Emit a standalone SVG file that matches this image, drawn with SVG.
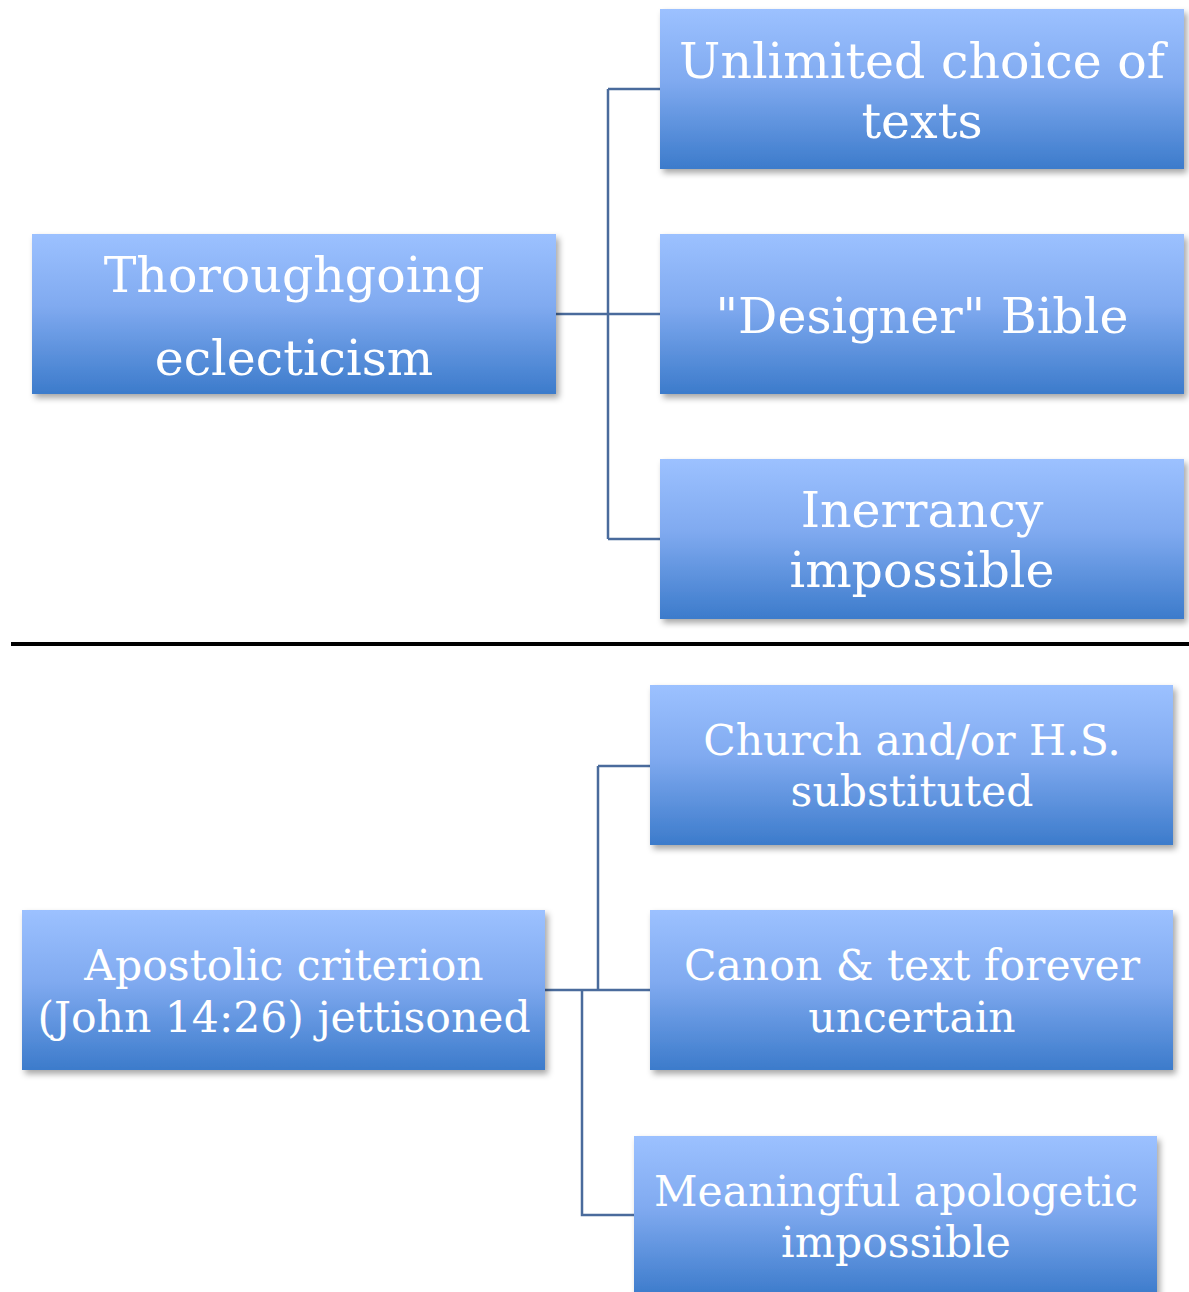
<svg xmlns="http://www.w3.org/2000/svg" width="1189" height="1292" viewBox="0 0 1189 1292">
<defs>
<linearGradient id="g" x1="0" y1="0" x2="0" y2="1">
<stop offset="0" stop-color="#9cc1ff"/>
<stop offset="0.45" stop-color="#80aaf0"/>
<stop offset="1" stop-color="#3c7bcb"/>
</linearGradient>
<filter id="sh" x="-5%" y="-5%" width="115%" height="120%">
<feDropShadow dx="3" dy="4" stdDeviation="3" flood-color="#000" flood-opacity="0.35"/>
</filter>
</defs>
<style>
.box{fill:url(#g);filter:url(#sh)}
.t{font-family:"DejaVu Serif","Liberation Serif",serif;fill:#fff;text-anchor:middle}
.big{font-size:49px}
.sm{font-size:42.5px}
.c{fill:none;stroke:#4a6b9c;stroke-width:2.5}
</style>
<rect width="1189" height="1292" fill="#fff"/>
<g id="connectors">
<path class="c" d="M556 314H660M608 89V539M608 89H660M608 539H660"/>
<path class="c" d="M545 990H650M598 766V990M598 766H650M582 990V1215H634"/>
</g>
<line x1="11" y1="644" x2="1189" y2="644" stroke="#000" stroke-width="4"/>
<g id="n-thoroughgoing"><rect class="box" x="32" y="234" width="524" height="160"/>
<text class="t big" x="294" y="292">Thoroughgoing</text><text class="t big" x="294" y="375">eclecticism</text></g>
<g id="n-unlimited"><rect class="box" x="660" y="9" width="524" height="160"/>
<text class="t big" x="922" y="78">Unlimited choice of</text><text class="t big" x="922" y="138">texts</text></g>
<g id="n-designer"><rect class="box" x="660" y="234" width="524" height="160"/>
<text class="t big" x="922" y="333">"Designer" Bible</text></g>
<g id="n-inerrancy"><rect class="box" x="660" y="459" width="524" height="160"/>
<text class="t big" x="922" y="527">Inerrancy</text><text class="t big" x="922" y="587">impossible</text></g>
<g id="n-apostolic"><rect class="box" x="22" y="910" width="523" height="160"/>
<text class="t sm" x="284" y="980">Apostolic criterion</text><text class="t sm" x="284" y="1032">(John 14:26) jettisoned</text></g>
<g id="n-church"><rect class="box" x="650" y="685" width="523" height="160"/>
<text class="t sm" x="912" y="755">Church and/or H.S.</text><text class="t sm" x="912" y="806">substituted</text></g>
<g id="n-canon"><rect class="box" x="650" y="910" width="523" height="160"/>
<text class="t sm" x="912" y="980">Canon &amp; text forever</text><text class="t sm" x="912" y="1032">uncertain</text></g>
<g id="n-meaningful"><rect class="box" x="634" y="1136" width="523" height="160"/>
<text class="t sm" x="896" y="1206">Meaningful apologetic</text><text class="t sm" x="896" y="1257">impossible</text></g>
</svg>
